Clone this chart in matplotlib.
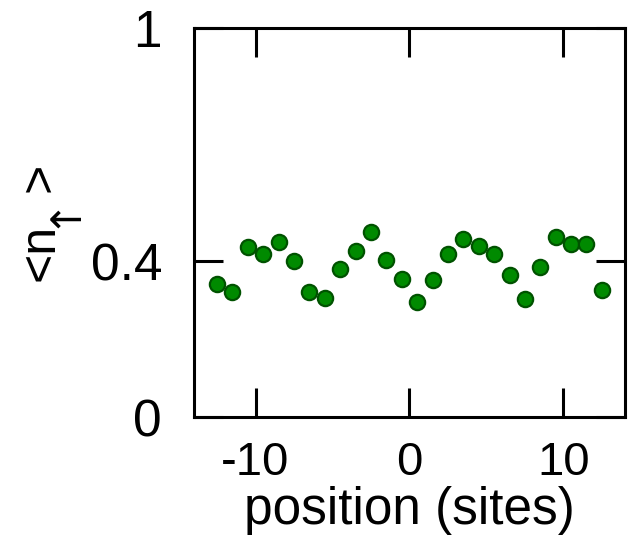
import numpy as np
import matplotlib.pyplot as plt

plt.rcParams['font.family'] = ['Liberation Sans', 'DejaVu Sans']
plt.rcParams['axes.unicode_minus'] = False

# site positions (half-integer) and measured occupation
position = [-12.5, -11.5, -10.5, -9.5, -8.5, -7.5, -6.5, -5.5, -4.5, -3.5,
            -2.5, -1.5, -0.5, 0.5, 1.5, 2.5, 3.5, 4.5, 5.5, 6.5,
            7.5, 8.5, 9.5, 10.5, 11.5, 12.5]
n_up = [0.341, 0.322, 0.438, 0.418, 0.449, 0.402, 0.322, 0.307, 0.380, 0.428,
        0.475, 0.403, 0.354, 0.296, 0.352, 0.419, 0.458, 0.440, 0.418, 0.365,
        0.303, 0.386, 0.462, 0.445, 0.444, 0.326]

xticks = [-10, 0, 10]
yticks = [0, 0.4, 1]
ytick_labels = ['0', '0.4', '1']

W, H = 629, 536
fig = plt.figure(figsize=(6.29, 5.36), dpi=100)
ax = fig.add_axes([0.3084, 0.222, 0.6852, 0.7258])

ax.plot(position, n_up, 'o', markersize=11, markerfacecolor='#008a00',
        markeredgecolor='#005200', markeredgewidth=1.6, linestyle='none')

ax.set_xlim(-14, 14)
ax.set_ylim(0, 1)
ax.set_xticks(xticks)
ax.set_yticks(yticks)
ax.set_yticklabels(ytick_labels)

for s in ax.spines.values():
    s.set_linewidth(2.2)

ax.tick_params(axis='both', direction='in', length=21, width=2.2,
               top=True, right=True)
ax.tick_params(axis='x', labelsize=34, pad=17)
ax.tick_params(axis='y', labelsize=37, pad=23)

fig.text(409.5 / W, 12 / H, 'position (sites)', fontsize=37,
         ha='center', va='baseline')

# y label <n_up> built from pieces so the arrow matches the original size
fig.text(40 / W, 1 - 281 / H, '<n', fontsize=36, rotation=90,
         ha='center', va='bottom')
fig.text(61 / W, 1 - 211 / H, '\u2191', fontsize=30, rotation=90,
         ha='center', va='center', family='DejaVu Sans')
fig.text(40 / W, 1 - 163 / H, '>', fontsize=36, rotation=90,
         ha='center', va='top')

fig.savefig('out.png', dpi=100)
